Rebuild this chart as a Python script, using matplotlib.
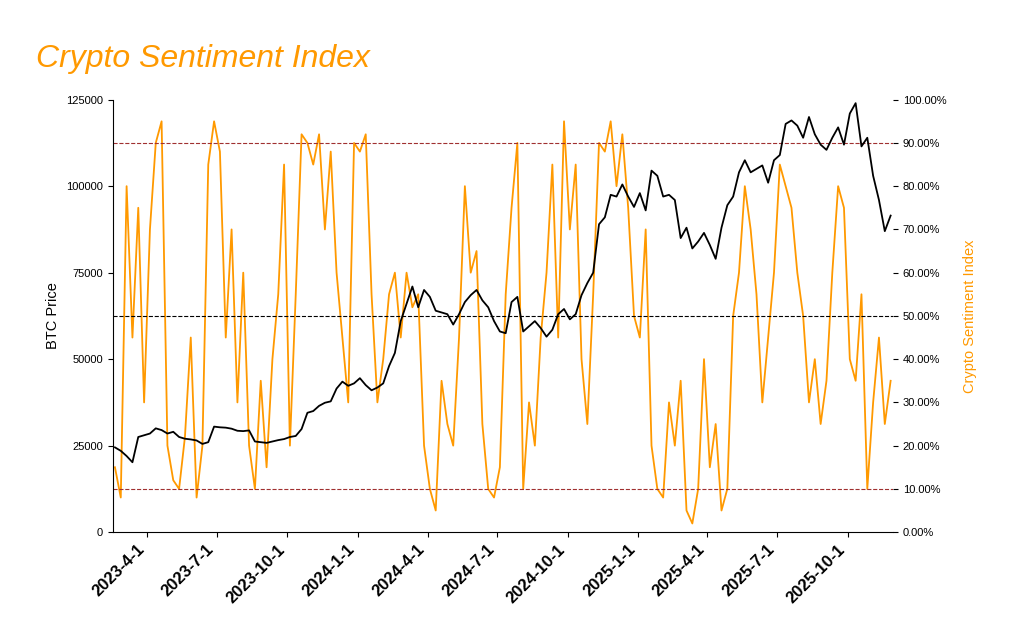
import pandas as pd
import matplotlib.pyplot as plt
import matplotlib.dates as mdates
from matplotlib.ticker import FuncFormatter

plt.rcParams[ 'font.family' ] = [ 'Liberation Sans', 'DejaVu Sans' ]

start = "2023-02-18"
end = "2025-11-26"

btc = [ 24500, 23500, 22000, 20200, 27500, 28000,
        28500, 30000, 29500, 28500,
        29000, 27500, 27000, 26800,
        26500, 25500, 26000, 30500,
        30300, 30200, 29900, 29300,
        29200, 29400, 26200, 26000,
        25800, 26200, 26600, 26900,
        27500, 27800, 29800, 34500,
        35000, 36500, 37400, 37800,
        41500, 43500, 42300, 43000,
        44500, 42500, 41000, 41800,
        43000, 48000, 51800, 61000,
        66000, 71000, 65000, 70000,
        68000, 64000, 63500, 63000,
        60000, 63000, 66500, 68500,
        70000, 67000, 65000, 61000,
        58000, 57500, 66500, 68000,
        58000, 59500, 61000, 59000,
        56500, 58500, 63000, 64500,
        61500, 63000, 68500, 72000,
        75000, 89000, 91000, 97500,
        97000, 100500, 97000, 94000,
        98000, 93000, 104500, 103000,
        97000, 97500, 96000, 85000,
        88000, 82000, 84000, 86500,
        83000, 79000, 88000, 94500,
        97000, 104000, 107500, 104000,
        105000, 106000, 101000, 107500,
        109000, 118000, 119000, 117500,
        114000, 120000, 115000, 112000,
        110500, 114000, 117000, 112000,
        121000, 124000, 111500, 114000,
        103000, 96000, 87000, 91500 ]

sentiment = [ 15, 8, 80, 45, 75, 30,
              70, 90, 95, 20,
              12, 10, 22, 45,
              8, 20, 85, 95,
              88, 45, 70, 30,
              60, 20, 10, 35,
              15, 40, 55, 85,
              20, 55, 92, 90,
              85, 92, 70, 88,
              60, 45, 30, 90,
              88, 92, 55, 30,
              40, 55, 60, 45,
              60, 52, 55, 20,
              10, 5, 35, 25,
              20, 45, 80, 60,
              65, 25, 10, 8,
              15, 55, 75, 90,
              10, 30, 20, 45,
              60, 85, 45, 95,
              70, 85, 40, 25,
              55, 90, 88, 95,
              80, 92, 75, 50,
              45, 70, 20, 10,
              8, 30, 20, 35,
              5, 2, 10, 40,
              15, 25, 5, 10,
              50, 60, 80, 70,
              55, 30, 45, 60,
              85, 80, 75, 60,
              50, 30, 40, 25,
              35, 60, 80, 75,
              40, 35, 55, 10,
              30, 45, 25, 35 ]

tick_dates = [ "2023-4-1", "2023-7-1", "2023-10-1", "2024-1-1", "2024-4-1", "2024-7-1",
               "2024-10-1", "2025-1-1", "2025-4-1", "2025-7-1", "2025-10-1" ]

orange = "#ff9900"

def plot_sentiment():
    plt.figure( figsize=( 10.24, 6.35 ), dpi=100 )
    ax = plt.gca()
    plt.subplots_adjust( left=0.11, right=0.872, top=0.843, bottom=0.162 )

    d_btc = pd.date_range( start, end, periods=len( btc ) )
    d_sent = pd.date_range( start, end, periods=len( sentiment ) )

    plt.plot( d_btc, btc, color="black", lw=1.3, zorder=3 )
    plt.ylim( 0, 125000 )
    plt.ylabel( "BTC Price", fontsize=10.5 )
    plt.yticks( [ 0, 25000, 50000, 75000, 100000, 125000 ], fontsize=8 )
    plt.xticks( pd.to_datetime( tick_dates ), tick_dates, rotation=45, ha="right",
                fontsize=12, fontweight="bold" )
    plt.xlim( d_btc[ 0 ] - pd.Timedelta( days=3 ), d_btc[ -1 ] + pd.Timedelta( days=3 ) )
    for s in [ "top", "right" ]:
        ax.spines[ s ].set_visible( False )

    ax2 = plt.twinx()
    plt.plot( d_sent, sentiment, color=orange, lw=1.3, zorder=2 )
    plt.axhline( 90, color="#a03030", ls="--", lw=0.8 )
    plt.axhline( 50, color="black", ls="--", lw=0.8 )
    plt.axhline( 10, color="#a03030", ls="--", lw=0.8 )
    plt.ylim( 0, 100 )
    plt.yticks( range( 0, 101, 10 ), fontsize=8 )
    ax2.yaxis.set_major_formatter( FuncFormatter( lambda v, pos: "%.2f%%" % v ) )
    plt.ylabel( "Crypto Sentiment Index", color=orange, fontsize=10.5, labelpad=12 )
    for s in [ "top", "right", "left", "bottom" ]:
        ax2.spines[ s ].set_visible( False )
    ax.set_zorder( ax2.get_zorder() + 1 )
    ax.patch.set_visible( False )

    plt.gcf().text( 0.035, 0.895, "Crypto Sentiment Index", color=orange,
                    fontsize=23, style="italic" )
    plt.savefig( "out.png" )

if __name__ == "__main__":
    plot_sentiment()
